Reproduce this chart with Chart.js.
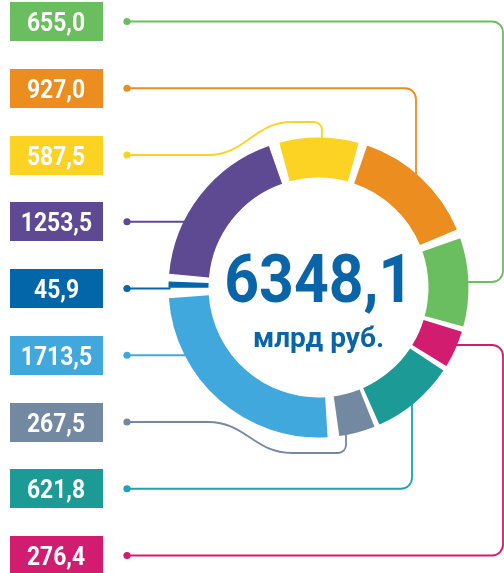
<!DOCTYPE html>
<html><head><meta charset="utf-8">
<script src="https://cdn.jsdelivr.net/npm/chart.js@4"></script>
<style>
html,body{margin:0;padding:0;background:#fff;}
#wrap{position:relative;width:504px;height:573px;overflow:hidden;font-family:Roboto,"Open Sans",sans-serif;}
#c{position:absolute;left:0;top:0;}
.box{position:absolute;left:10px;width:93px;height:39px;color:#fff;font-weight:700;font-size:26px;text-align:center;line-height:39px;padding-top:1px;box-sizing:border-box;}
.box span{display:inline-block;transform:scaleX(0.88);transform-origin:center;}
#total{position:absolute;left:168px;width:301px;text-align:center;top:247px;font-size:66px;line-height:66px;font-weight:700;color:#0A64A8;}
#total span{display:inline-block;transform:scaleX(0.92);transform-origin:center;}
#unit{position:absolute;left:168px;width:301px;text-align:center;top:324px;font-size:28px;line-height:28px;font-weight:700;color:#0A64A8;}
</style></head>
<body><div id="wrap"><canvas id="c" width="504" height="573"></canvas><div id="labels"></div><div id="total"><span id="totalText"></span></div><div id="unit"></div></div>
<script>
// ---- data (ring order, clockwise from top) ----
const sliceNames  = ['yellow', 'orange', 'green', 'magenta', 'teal', 'grey', 'lightBlue', 'darkBlue', 'purple'];
const sliceValues = [587.5, 927.0, 655.0, 276.4, 621.8, 267.5, 1713.5, 45.9, 1253.5];
// left list order (top to bottom), as indices into the slices
const listOrder   = [2, 1, 0, 8, 7, 6, 5, 4, 3];
const unitLabel   = 'млрд руб.';

// ---- styles ----
const sliceColors = ['#FCD322', '#EB8D1F', '#6BBE5F', '#D11C6F', '#1C9A96', '#7389A1', '#41A8DE', '#0366A8', '#5E4A93'];
const lineColors  = ['#FCD322', '#EB8D1F', '#6BBE5F', '#D11C6F', '#1BA3B6', '#7389A1', '#41A8DE', '#0366A8', '#5E4A93'];
const rowTop0 = 2, rowStep = 66.75, boxH = 39, dotX = 127;
const SPACING = 20;
// leader routing per list row
const leaderRoutes = [
  {type: 'elbow', x: 503, y: 282},
  {type: 'down', x: 416},
  {type: 'sUp', x1: 208, x2: 292, y: 122, x: 322},
  {type: 'straight'},
  {type: 'straight'},
  {type: 'straight'},
  {type: 'sDown', x1: 208, x2: 292, y: 453, x: 346},
  {type: 'up', x: 412},
  {type: 'elbow', x: 503, y: 345}
];

const fmt = v => v.toFixed(1).replace('.', ',');

// HTML labels
const labelsDiv = document.getElementById('labels');
listOrder.forEach((idx, row) => {
  const d = document.createElement('div');
  d.className = 'box';
  d.style.top = (rowTop0 + row * rowStep) + 'px';
  d.style.background = sliceColors[idx];
  const s = document.createElement('span');
  s.textContent = fmt(sliceValues[idx]);
  d.appendChild(s);
  labelsDiv.appendChild(d);
});
document.getElementById('totalText').textContent = fmt(sliceValues.reduce((a, b) => a + b, 0));
document.getElementById('unit').textContent = unitLabel;

function roundedPath(ctx, pts, r) {
  for (let i = 1; i < pts.length - 1; i++) {
    ctx.arcTo(pts[i][0], pts[i][1], pts[i + 1][0], pts[i + 1][1], r);
  }
  ctx.lineTo(pts[pts.length - 1][0], pts[pts.length - 1][1]);
}

const leaderPlugin = {
  id: 'leaders',
  beforeDatasetsDraw(chart) {
    const ctx = chart.ctx;
    const el = chart.getDatasetMeta(0).data[0];
    const cx = el.x, cy = el.y;
    const R = el.outerRadius + SPACING / 2 - 2;
    const ringX = (y, s) => cx + s * Math.sqrt(Math.max(R * R - (y - cy) * (y - cy), 0));
    const ringY = (x, s) => cy + s * Math.sqrt(Math.max(R * R - (x - cx) * (x - cx), 0));
    ctx.save();
    ctx.lineWidth = 1.8;
    ctx.lineJoin = 'round';
    listOrder.forEach((idx, row) => {
      const y0 = rowTop0 + row * rowStep + boxH / 2;
      const rt = leaderRoutes[row];
      const col = lineColors[idx];
      ctx.strokeStyle = col;
      ctx.fillStyle = col;
      ctx.beginPath();
      ctx.moveTo(dotX, y0);
      if (rt.type === 'straight') {
        ctx.lineTo(ringX(y0, -1), y0);
      } else if (rt.type === 'elbow') {
        roundedPath(ctx, [[dotX, y0], [rt.x, y0], [rt.x, rt.y], [ringX(rt.y, 1), rt.y]], 11);
      } else if (rt.type === 'down') {
        roundedPath(ctx, [[dotX, y0], [rt.x, y0], [rt.x, ringY(rt.x, -1)]], 11);
      } else if (rt.type === 'up') {
        roundedPath(ctx, [[dotX, y0], [rt.x, y0], [rt.x, ringY(rt.x, 1)]], 11);
      } else if (rt.type === 'sUp' || rt.type === 'sDown') {
        const s = rt.type === 'sUp' ? -1 : 1;
        ctx.lineTo(rt.x1, y0);
        ctx.bezierCurveTo(rt.x1 + 38, y0, rt.x2 - 38, rt.y, rt.x2, rt.y);
        roundedPath(ctx, [[rt.x2, rt.y], [rt.x, rt.y], [rt.x, ringY(rt.x, s)]], 8);
      }
      ctx.stroke();
      ctx.beginPath();
      ctx.arc(dotX, y0, 3.6, 0, Math.PI * 2);
      ctx.fill();
    });
    ctx.restore();
  }
};

new Chart(document.getElementById('c'), {
  type: 'doughnut',
  data: {
    labels: sliceNames,
    datasets: [{
      data: sliceValues,
      backgroundColor: sliceColors,
      borderWidth: 0,
      spacing: SPACING
    }]
  },
  options: {
    responsive: false,
    animation: false,
    events: [],
    rotation: -16.5,
    radius: 150 - SPACING / 2,
    cutout: ((110 - SPACING / 2) / (150 - SPACING / 2) * 100).toFixed(2) + '%',
    layout: {padding: {left: 133, right: 0, top: 2, bottom: 0}},
    plugins: {legend: {display: false}, tooltip: {enabled: false}}
  },
  plugins: [leaderPlugin]
});
</script>
</body></html>
